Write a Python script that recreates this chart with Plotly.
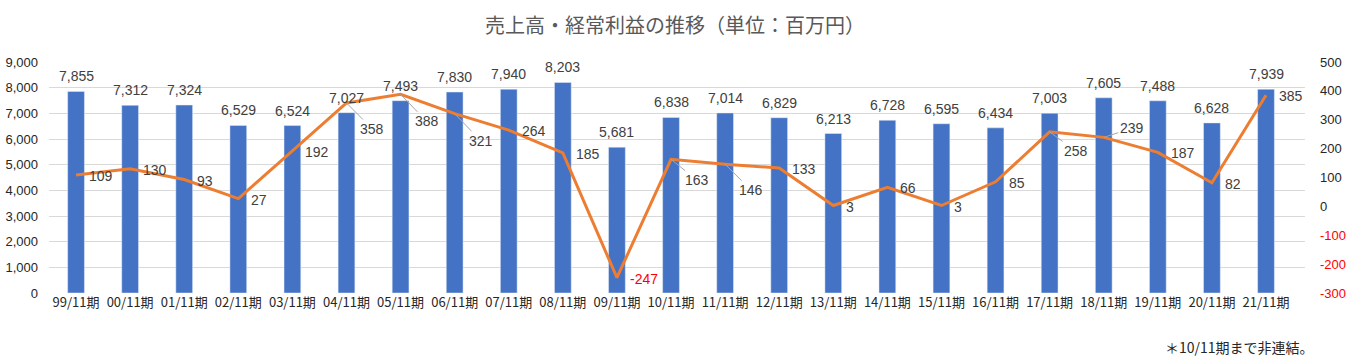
import plotly.graph_objects as go

categories = ["99/11期", "00/11期", "01/11期", "02/11期", "03/11期", "04/11期", "05/11期",
              "06/11期", "07/11期", "08/11期", "09/11期", "10/11期", "11/11期", "12/11期",
              "13/11期", "14/11期", "15/11期", "16/11期", "17/11期", "18/11期", "19/11期",
              "20/11期", "21/11期"]
sales = [7855, 7312, 7324, 6529, 6524, 7027, 7493, 7830, 7940, 8203, 5681, 6838, 7014,
         6829, 6213, 6728, 6595, 6434, 7003, 7605, 7488, 6628, 7939]
ordinary_profit = [109, 130, 93, 27, 192, 358, 388, 321, 264, 185, -247, 163, 146, 133,
                   3, 66, 3, 85, 258, 239, 187, 82, 385]
left_ticks = list(range(0, 9001, 1000))
right_ticks = list(range(-300, 501, 100))

title_text = "売上高・経常利益の推移（単位：百万円）"
note_text = "＊10/11期まで非連結。"

# label placement tweaks (pixel offsets for profit labels that use leader lines)
leader_offsets = {5: (26, 26), 6: (26, 27), 7: (26, 27), 11: (26, 21), 12: (26, 26),
                  18: (26, 19), 19: (28, -9)}

BAR = "#4472C4"
LINE = "#ED7D31"
TXT = "#404040"
NUMFONT = "Liberation Sans, Noto Sans CJK JP, sans-serif"
CJK = "Noto Sans CJK JP, sans-serif"

W, H = 1350, 361
ML, MR, MT, MB = 49, 45, 62, 68
PW, PH = W - ML - MR, H - MT - MB

fig = go.Figure()
fig.add_trace(go.Bar(x=categories, y=sales, marker_color=BAR, width=0.31,
                     name="売上高", yaxis="y"))
fig.add_trace(go.Scatter(x=categories, y=ordinary_profit, mode="lines",
                         line=dict(color=LINE, width=3), name="経常利益", yaxis="y2"))

annotations = []
for c, v in zip(categories, sales):
    annotations.append(dict(x=c, y=v, xref="x", yref="y", text=f"{v:,}", showarrow=False,
                            yanchor="bottom", yshift=5,
                            font=dict(family=NUMFONT, size=14, color=TXT)))
for i, (c, v) in enumerate(zip(categories, ordinary_profit)):
    col = "#FF0000" if v < 0 else TXT
    if i in leader_offsets:
        ax, ay = leader_offsets[i]
        annotations.append(dict(x=c, y=v, xref="x", yref="y2", text=f"{v:,}",
                                showarrow=True, arrowhead=0, arrowwidth=1,
                                arrowcolor="#A6A6A6", ax=ax, ay=ay, standoff=0,
                                font=dict(family=NUMFONT, size=14, color=col)))
    else:
        annotations.append(dict(x=c, y=v, xref="x", yref="y2", text=f"{v:,}",
                                showarrow=False, xanchor="left", xshift=11, yshift=-1,
                                font=dict(family=NUMFONT, size=14, color=col)))

annotations.append(dict(x=(1316 - ML) / PW, y=-(347 - (H - MB)) / PH, xref="paper",
                        yref="paper", text=note_text, showarrow=False, xanchor="right",
                        yanchor="middle", font=dict(family=CJK, size=14, color="#262626")))

right_text = [f'<span style="color:#FF0000">{t}</span>' if t < 0 else str(t)
              for t in right_ticks]

fig.update_layout(
    width=W, height=H,
    margin=dict(l=ML, r=MR, t=MT, b=MB, autoexpand=False),
    paper_bgcolor="white", plot_bgcolor="white",
    showlegend=False,
    title=dict(text=title_text, x=0.5, xanchor="center", y=1 - 26 / H, yanchor="middle",
               font=dict(family=CJK, size=20, color="#595959")),
    xaxis=dict(type="category", showgrid=False, ticks="", showline=False, automargin=False,
               tickfont=dict(family=CJK, size=13, color="#262626")),
    yaxis=dict(range=[0, 9000], tickvals=left_ticks, tickformat=",", showgrid=True,
               gridcolor="#D9D9D9", gridwidth=1, zeroline=False, showline=False,
               ticks="", ticklabelstandoff=10, automargin=False,
               tickfont=dict(family=NUMFONT, size=13, color="#262626")),
    yaxis2=dict(range=[-300, 500], tickvals=right_ticks, ticktext=right_text,
                overlaying="y", side="right", showgrid=False, zeroline=False,
                showline=False, ticks="", ticklabelstandoff=14, automargin=False,
                tickfont=dict(family=NUMFONT, size=13, color="#262626")),
    annotations=annotations,
)
fig.write_html("out.html", config={"displayModeBar": False},
               post_script="document.body.style.margin='0';document.body.style.overflow='hidden';")
